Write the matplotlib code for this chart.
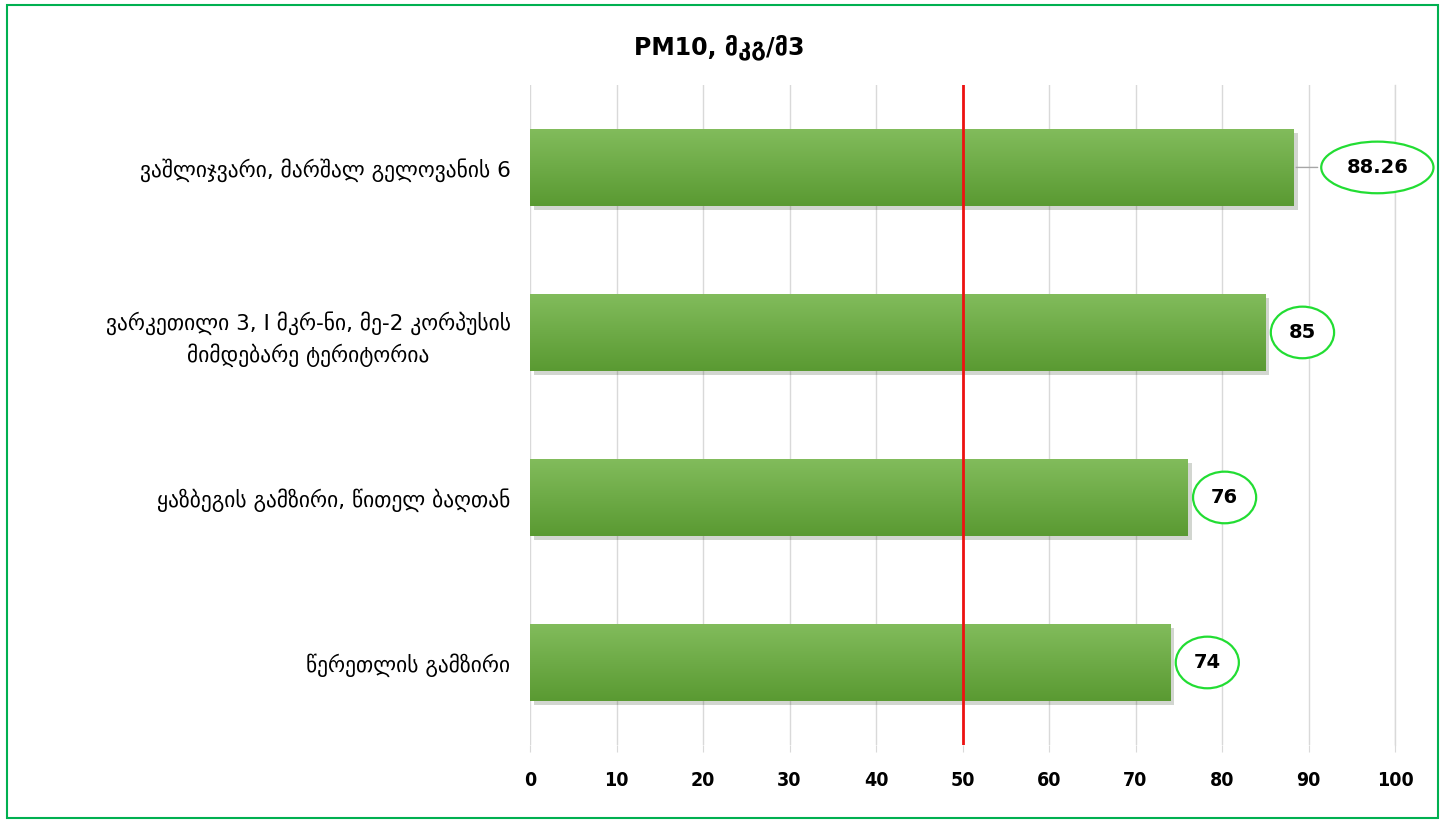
import matplotlib.pyplot as plt
import matplotlib.patheffects as pe
from matplotlib.patches import Rectangle
import numpy as np

plt.rcParams['font.family'] = ['DejaVu Sans']

title = "PM10, მკგ/მ3"
stations = [
    "ვაშლიჯვარი, მარშალ გელოვანის 6",
    "ვარკეთილი 3, I მკრ-ნი, მე-2 კორპუსის\nმიმდებარე ტერიტორია",
    "ყაზბეგის გამზირი, წითელ ბაღთან",
    "წერეთლის გამზირი",
]
values = [88.26, 85, 76, 74]
value_labels = ["88.26", "85", "76", "74"]
limit = 50
xticks = [0, 10, 20, 30, 40, 50, 60, 70, 80, 90, 100]


def main():
    fig = plt.figure(figsize=(14.45, 8.23), dpi=100)
    ax = fig.add_axes([0.3668, 0.0948, 0.5986, 0.802])

    y = np.arange(len(values))
    bars = ax.barh(y, values, height=0.47, color="#6aa845", zorder=2,
                   path_effects=[pe.SimplePatchShadow(offset=(3, -3), alpha=0.2), pe.Normal()])

    # vertical gradient inside each bar
    grad = np.linspace(0, 1, 100).reshape(-1, 1)
    cmap = plt.matplotlib.colors.LinearSegmentedColormap.from_list("g", ["#82bc5c", "#5a9a32"])
    for b in bars:
        x0, y0 = b.get_x(), b.get_y()
        w, h = b.get_width(), b.get_height()
        im = ax.imshow(grad, extent=(x0, x0 + w, y0 + h, y0), aspect="auto",
                       cmap=cmap, zorder=3)
        im.set_clip_path(b)

    ax.set_xlim(0, 100)
    ax.set_ylim(3.5, -0.5)
    ax.set_xticks(xticks)
    ax.set_xticklabels([str(t) for t in xticks], fontsize=14, fontweight="bold",
                       fontstretch="condensed")
    ax.set_yticks(y)
    ax.set_yticklabels(stations, fontsize=15.5, multialignment="center", linespacing=1.45)
    ax.tick_params(axis="y", length=0, pad=14)
    ax.tick_params(axis="x", length=5, color="#d9d9d9", pad=14)
    ax.grid(axis="x", color="#d9d9d9", lw=1, zorder=0)
    ax.axvline(100, color="#d9d9d9", lw=1, zorder=0, clip_on=False)
    for s in ax.spines.values():
        s.set_visible(False)

    ax.axvline(limit, color="#ee1111", lw=2, zorder=4)

    # value labels in ellipses
    ell = dict(boxstyle="ellipse,pad=0.45", fc="white", ec="#22dd33", lw=1.6)
    for i, v in enumerate(values):
        if i == 0:
            ax.annotate(value_labels[i], xy=(v, i), xytext=(v + 9.7, i),
                        ha="center", va="center", fontsize=14, fontweight="bold",
                        bbox=ell, arrowprops=dict(arrowstyle="-", color="#a6a6a6", lw=1),
                        zorder=5)
        else:
            ax.annotate(value_labels[i], xy=(v, i), xytext=(v + 4.3, i),
                        ha="center", va="center", fontsize=14, fontweight="bold",
                        bbox=ell, zorder=5)

    fig.text(0.498, 0.943, title, ha="center", va="center", fontsize=17, fontweight="bold")

    fig.patches.append(Rectangle((0.005, 0.006), 0.99, 0.988, transform=fig.transFigure,
                                 fill=False, ec="#00b050", lw=1.5))

    fig.savefig("out.png", dpi=100)


if __name__ == "__main__":
    main()
